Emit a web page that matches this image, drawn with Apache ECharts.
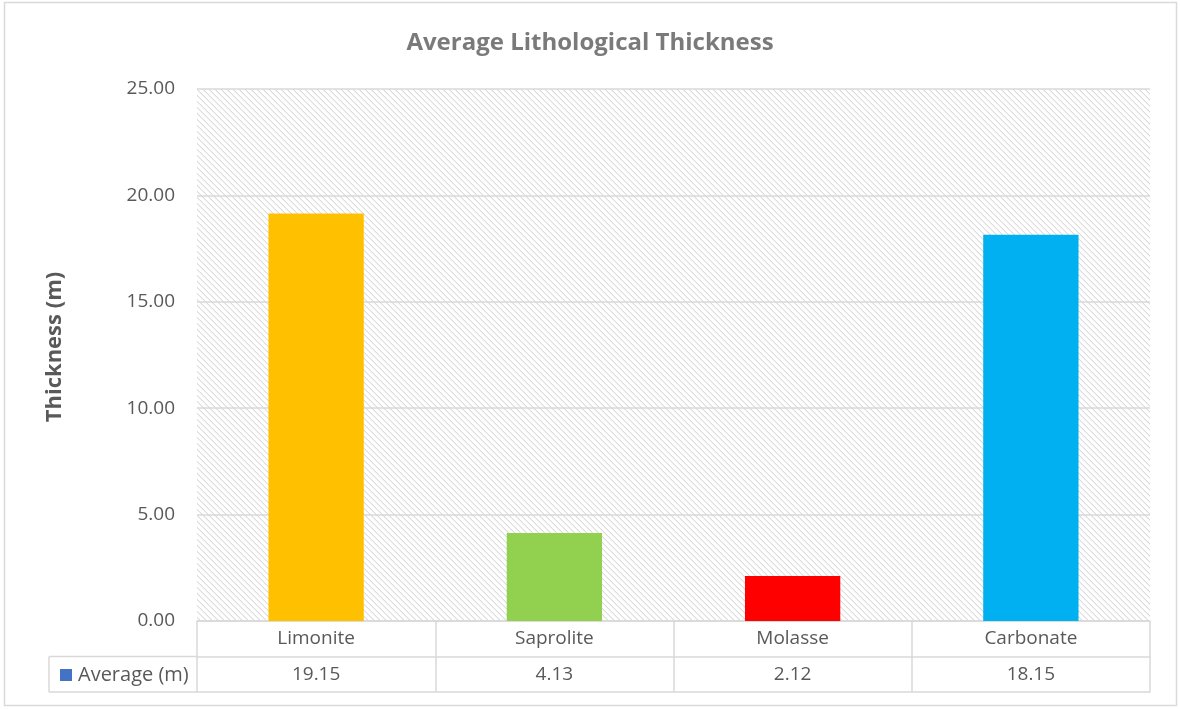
<!DOCTYPE html>
<html>
<head>
<meta charset="utf-8">
<script src="https://cdn.jsdelivr.net/npm/echarts@6/dist/echarts.min.js"></script>
<style>
html,body{margin:0;padding:0;background:#fff;}
#chart{width:1180px;height:709px;}
</style>
</head>
<body>
<div id="chart"></div>
<script>
const categories = ['Limonite', 'Saprolite', 'Molasse', 'Carbonate'];
const averageValues = [19.15, 4.13, 2.12, 18.15];
const barColors = ['#FFC000', '#92D050', '#FF0000', '#00B0F0'];
const seriesName = 'Average (m)';
const yTicks = { min: 0, max: 25, interval: 5 };

const FONT = '"Open Sans", "Noto Sans", sans-serif';
const TXT = '#595959';
const LINE = '#d9d9d9';

// hatch pattern tile
const tile = document.createElement('canvas');
tile.width = 6; tile.height = 6;
const tc = tile.getContext('2d');
tc.fillStyle = '#ffffff'; tc.fillRect(0, 0, 6, 6);
for (let i = 0; i < 6; i++) {
  tc.fillStyle = '#dcdcdc'; tc.fillRect(i, i, 1, 1);
  tc.fillStyle = '#efefef'; tc.fillRect(i, (i + 1) % 6, 1, 1);
}

const G = { left: 197, right: 30, top: 89, bottom: 88 };
const rowH = 35.5;
const W = 1180, H = 709;
const gridBottomY = H - G.bottom;

const chart = echarts.init(document.getElementById('chart'), null, { renderer: 'canvas' });
chart.setOption({
  backgroundColor: '#fff',
  animation: false,
  title: {
    text: 'Average Lithological Thickness',
    left: 'center', top: 26,
    textStyle: { fontFamily: FONT, fontSize: 24, fontWeight: 'bold', color: '#7a7a7a' }
  },
  legend: {
    show: true,
    left: 55, top: 660,
    itemWidth: 12, itemHeight: 12, itemGap: 6,
    icon: 'rect',
    data: [{ name: seriesName, itemStyle: { color: '#4472C4' } }],
    textStyle: { fontFamily: FONT, fontSize: 20, color: TXT, padding: [0, 0, 0, 1] },
    selectedMode: false
  },
  grid: {
    left: G.left, right: G.right, top: G.top, bottom: G.bottom,
    show: true, borderWidth: 0,
    backgroundColor: { image: tile, repeat: 'repeat' }
  },
  xAxis: [
    {
      type: 'category', data: categories, position: 'bottom',
      axisLine: { show: true, lineStyle: { color: LINE, width: 1.5 } },
      axisTick: { show: true, length: rowH * 2, lineStyle: { color: LINE, width: 1.5 } },
      axisLabel: { margin: 8, fontFamily: FONT, fontSize: 19, color: TXT }
    },
    {
      type: 'category', data: categories, position: 'bottom', offset: rowH,
      axisLine: { show: true, lineStyle: { color: LINE, width: 1.5 } },
      axisTick: { show: false },
      axisLabel: {
        margin: 9, fontFamily: FONT, fontSize: 19, color: TXT,
        formatter: (v, i) => averageValues[i].toFixed(2)
      }
    },
    {
      type: 'category', data: categories, position: 'bottom', offset: rowH * 2,
      axisLine: { show: true, lineStyle: { color: LINE, width: 1.5 } },
      axisTick: { show: false },
      axisLabel: { show: false }
    }
  ],
  yAxis: {
    type: 'value', min: yTicks.min, max: yTicks.max, interval: yTicks.interval,
    name: 'Thickness (m)', nameLocation: 'middle', nameGap: 131, nameRotate: 90,
    nameTextStyle: { fontFamily: FONT, fontSize: 22, fontWeight: 'bold', color: TXT, padding: [0, 0, 0, 16] },
    axisLine: { show: false }, axisTick: { show: false },
    axisLabel: { margin: 22, fontFamily: FONT, fontSize: 19, color: TXT, formatter: v => v.toFixed(2) },
    splitLine: { show: true, lineStyle: { color: LINE, width: 1.5 } }
  },
  series: [{
    name: seriesName, type: 'bar', barWidth: '40%',
    data: averageValues.map((v, i) => ({ value: v, itemStyle: { color: barColors[i] } })),
    itemStyle: { color: '#4472C4' }
  }],
  graphic: [
    { type: 'rect', silent: true, shape: { x: 4.5, y: 2.5, width: 1172, height: 703 }, style: { fill: 'none', stroke: LINE, lineWidth: 1.5 } },
    { type: 'line', silent: true, shape: { x1: 49, y1: gridBottomY + rowH, x2: G.left, y2: gridBottomY + rowH }, style: { stroke: LINE, lineWidth: 1.5 } },
    { type: 'line', silent: true, shape: { x1: 49, y1: gridBottomY + rowH * 2, x2: G.left, y2: gridBottomY + rowH * 2 }, style: { stroke: LINE, lineWidth: 1.5 } },
    { type: 'line', silent: true, shape: { x1: 49, y1: gridBottomY + rowH, x2: 49, y2: gridBottomY + rowH * 2 }, style: { stroke: LINE, lineWidth: 1.5 } }
  ]
});
</script>
</body>
</html>
